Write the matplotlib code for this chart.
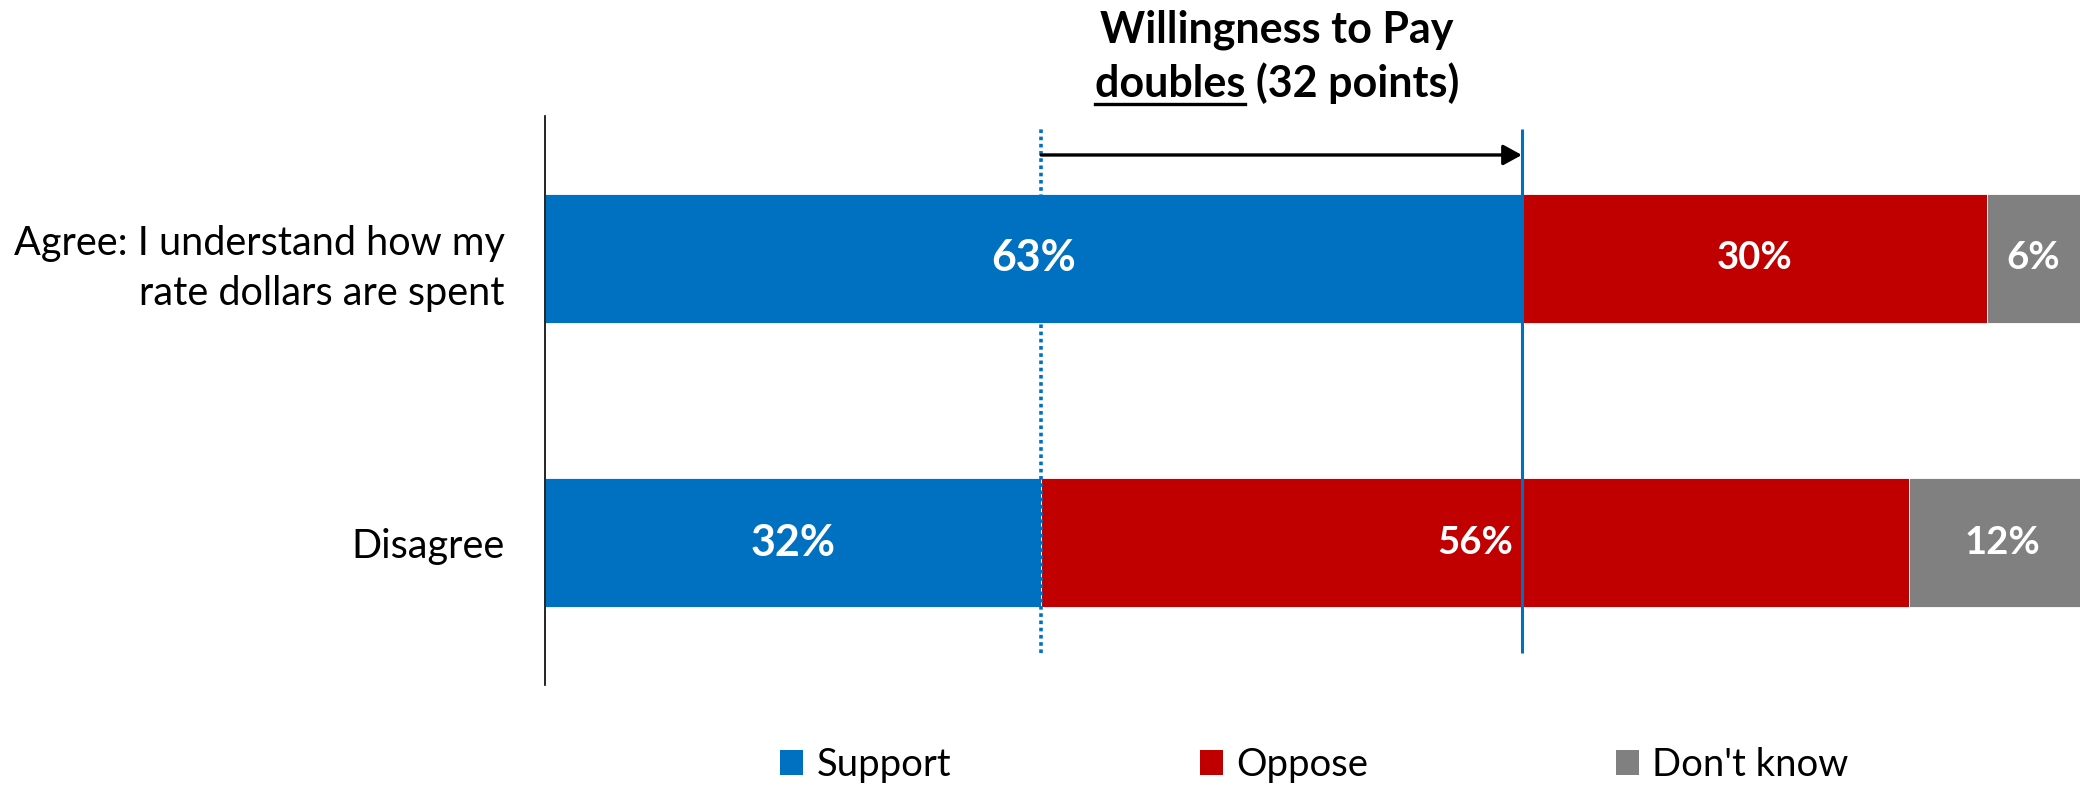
import matplotlib
matplotlib.use("Agg")
import matplotlib.pyplot as plt
from matplotlib.patches import Patch
from matplotlib.lines import Line2D

plt.rcParams['font.family'] = ['Lato', 'DejaVu Sans']

# survey results, share of respondents (%)
categories = ["Agree: I understand how my\nrate dollars are spent", "Disagree"]
support = [63, 32]
oppose = [30, 56]
dont_know = [6, 12]
series_names = ["Support", "Oppose", "Don't know"]
series_colors = ["#0070C0", "#C00000", "#808080"]

title_top = "Willingness to Pay"
title_bottom = "doubles (32 points)"
underlined_word = "doubles"


def main():
    fig = plt.figure(figsize=(20.8, 7.87), dpi=100)
    ax = fig.add_axes([0.262, 0.1296, 0.738, 0.723])

    # agree on top, disagree below
    y_pos = [1, 0]
    bar_h = 0.455
    lefts = [0, 0]
    for vals, color in zip([support, oppose, dont_know], series_colors):
        ax.barh(y_pos, vals, left=lefts, height=bar_h, color=color,
                edgecolor="white", linewidth=0.6, zorder=2)
        for y, left, v in zip(y_pos, lefts, vals):
            size = 31 if color == series_colors[0] else 27.5
            ax.text(left + v / 2, y, f"{v}%", ha="center", va="center",
                    color="white", fontsize=size, fontweight="bold", zorder=4)
        lefts = [l + v for l, v in zip(lefts, vals)]

    ax.set_xlim(0, 99)
    ax.set_ylim(-0.5, 1.5)
    ax.set_yticks(y_pos)
    ax.set_yticklabels(categories, fontsize=28.5, linespacing=1.45)
    ax.tick_params(axis="y", length=0, pad=29)
    ax.set_xticks([])
    for side in ["top", "right", "bottom"]:
        ax.spines[side].set_visible(False)
    ax.spines["left"].set_linewidth(1.2)
    ax.spines["left"].set_color("black")

    # reference lines at the support levels of the two groups
    low, high = support[1], support[0]
    ax.vlines(low, -0.387, 1.454, colors=series_colors[0], linestyles=(0, (1, 1)),
              linewidth=2.6, zorder=3)
    ax.vlines(high, -0.387, 1.454, colors=series_colors[0], linewidth=2.2, zorder=3)
    ax.annotate("", xy=(high, 1.363), xytext=(low, 1.363),
                arrowprops=dict(arrowstyle="-|>,head_length=0.4,head_width=0.22",
                                color="black", lw=2.4, mutation_scale=28,
                                shrinkA=0, shrinkB=0), zorder=5)

    # heading above the arrow, with the key word underlined
    cx = 1277 / 2080
    fig.text(cx, 1 - 30 / 787, title_top, ha="center", va="center",
             fontsize=31, fontweight="bold")
    t2 = fig.text(cx, 1 - 83 / 787, title_bottom, ha="center", va="center",
                  fontsize=31, fontweight="bold")
    renderer = fig.canvas.get_renderer()
    bb = t2.get_window_extent(renderer)
    probe = fig.text(0, 0, underlined_word, fontsize=31, fontweight="bold")
    w = probe.get_window_extent(renderer).width
    probe.remove()
    fw = fig.get_figwidth() * fig.dpi
    uy = 1 - 104 / 787
    fig.add_artist(Line2D([bb.x0 / fw, (bb.x0 + w) / fw], [uy, uy],
                          color="black", linewidth=2.4,
                          transform=fig.transFigure))

    handles = [Patch(facecolor=c, edgecolor="none") for c in series_colors]
    fig.legend(handles, series_names, loc="center", bbox_to_anchor=(0.632, 0.028),
               ncol=3, frameon=False, fontsize=27.5, handlelength=0.6,
               handleheight=0.62, handletextpad=0.35, columnspacing=6.5)

    fig.savefig("out.png", dpi=100)


if "__main__" == __name__:
    main()
